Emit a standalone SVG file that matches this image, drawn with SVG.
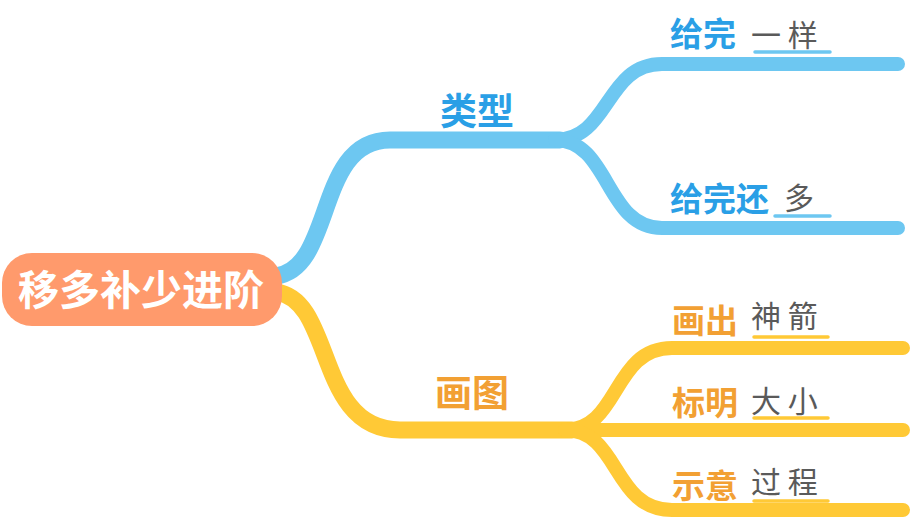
<svg xmlns="http://www.w3.org/2000/svg" width="914" height="532" viewBox="0 0 914 532">
<style>
.blue{fill:none;stroke:#6DC7F1;stroke-linecap:round;stroke-linejoin:round}
.yel{fill:none;stroke:#FFC936;stroke-linecap:round;stroke-linejoin:round}
.lbl{font-family:"Noto Sans CJK SC","Noto Sans",sans-serif;font-weight:bold}
.lb{fill:#2A9FE6}
.lo{fill:#F2A033}
.gray{font-family:"Noto Sans CJK SC","Noto Sans",sans-serif;font-weight:normal;fill:#5A5A5A;font-size:30px}
.ub{stroke:#6DC7F1;stroke-width:3.5;stroke-linecap:round}
.uy{stroke:#FFC936;stroke-width:3.5;stroke-linecap:round}
</style>
<rect width="914" height="532" fill="#FFFFFF"/>
<g id="connectors">
<path class="blue" stroke-width="17" d="M276 276 C335 268 315 140 390 140 L560 140"/>
<path class="blue" stroke-width="14" d="M555 140 C610 140 605 64 662 64 L898 64"/>
<path class="blue" stroke-width="14" d="M555 140 C610 140 605 228 662 228 L898 228"/>
<path class="yel" stroke-width="17" d="M276 292 C335 300 315 430 400 430 L572 430"/>
<path class="yel" stroke-width="14" d="M565 430 C620 430 612 348 672 348 L903 348"/>
<path class="yel" stroke-width="14" d="M565 430 L903 430"/>
<path class="yel" stroke-width="14" d="M565 430 C620 430 612 510 672 510 L903 510"/>
</g>
<g id="root">
<rect x="2" y="253" width="280" height="73" rx="30" fill="#FF9A6C"/>
<text x="141" y="305" text-anchor="middle" class="lbl" font-size="41" fill="#FFFFFF">移多补少进阶</text>
</g>
<g id="n-leixing">
<text x="440" y="125" class="lbl lb" font-size="37">类型</text>
</g>
<g id="n-geiwan-yiyang">
<text x="670" y="46" class="lbl lb" font-size="33">给完</text>
<text x="751" y="46" class="gray" xml:space="preserve">一 样</text>
<line class="ub" x1="755" y1="52" x2="830" y2="52"/>
</g>
<g id="n-geiwanhuan-duo">
<text x="670" y="211" class="lbl lb" font-size="33">给完还</text>
<text x="784" y="209" class="gray">多</text>
<line class="ub" x1="775" y1="216" x2="830" y2="216"/>
</g>
<g id="n-huatu">
<text x="435" y="407" class="lbl lo" font-size="37">画图</text>
</g>
<g id="n-huachu">
<text x="672" y="333" class="lbl lo" font-size="33">画出</text>
<text x="751" y="327" class="gray" xml:space="preserve">神 箭</text>
<line class="uy" x1="754" y1="337" x2="828" y2="337"/>
</g>
<g id="n-biaoming">
<text x="672" y="415" class="lbl lo" font-size="33">标明</text>
<text x="751" y="412" class="gray" xml:space="preserve">大 小</text>
<line class="uy" x1="754" y1="418" x2="828" y2="418"/>
</g>
<g id="n-shiyi">
<text x="672" y="498" class="lbl lo" font-size="33">示意</text>
<text x="751" y="493" class="gray" xml:space="preserve">过 程</text>
<line class="uy" x1="754" y1="501" x2="828" y2="501"/>
</g>
</svg>
